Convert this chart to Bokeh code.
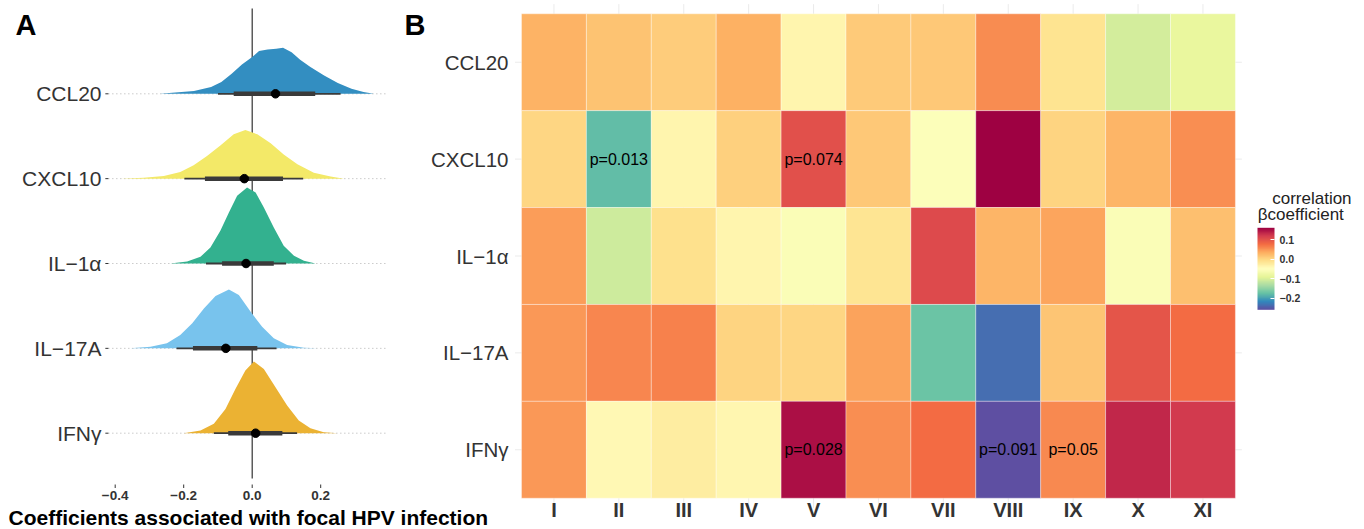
from bokeh.plotting import figure
from bokeh.models import Range1d, LinearColorMapper, ColorBar, FixedTicker, ColumnDataSource
from bokeh.transform import transform
from bokeh.core.properties import value
from bokeh.embed import file_html
from bokeh.resources import INLINE

FONT = "Liberation Sans"
W, H = 1364, 529

# ---------------- Panel A data ----------------
genes = ["CCL20", "CXCL10", "IL−1α", "IL−17A", "IFNγ"]
# Okabe-Ito colours as they appear at 80% opacity on white
gene_colors = ["#338EC1", "#F3E968", "#33B18F", "#78C3ED", "#EBB233"]

# density profiles (height in row-spacing units)
dens_x_ccl20 = [-0.27, -0.17, -0.12, -0.09, -0.06, -0.03, 0.0, 0.02, 0.045, 0.07, 0.09, 0.115, 0.14, 0.17, 0.21, 0.25, 0.29, 0.325, 0.355]
dens_h_ccl20 = [0.0, 0.032, 0.079, 0.138, 0.236, 0.345, 0.433, 0.503, 0.522, 0.530, 0.542, 0.491, 0.401, 0.315, 0.216, 0.126, 0.059, 0.020, 0.0]
dens_x_cxcl10 = [-0.385, -0.317, -0.258, -0.21, -0.171, -0.132, -0.093, -0.054, -0.02, 0.015, 0.054, 0.092, 0.132, 0.18, 0.229, 0.268]
dens_h_cxcl10 = [0.0, 0.012, 0.032, 0.079, 0.157, 0.268, 0.392, 0.522, 0.574, 0.522, 0.416, 0.286, 0.169, 0.071, 0.024, 0.0]
dens_x_il1a = [-0.239, -0.19, -0.151, -0.122, -0.093, -0.068, -0.044, -0.015, 0.01, 0.034, 0.063, 0.092, 0.122, 0.151, 0.185]
dens_h_il1a = [0.0, 0.024, 0.079, 0.189, 0.385, 0.601, 0.798, 0.896, 0.837, 0.660, 0.424, 0.209, 0.091, 0.032, 0.0]
dens_x_il17a = [-0.356, -0.297, -0.249, -0.21, -0.175, -0.141, -0.107, -0.068, -0.039, -0.005, 0.029, 0.063, 0.102, 0.151, 0.19]
dens_h_il17a = [0.0, 0.020, 0.059, 0.157, 0.295, 0.471, 0.616, 0.695, 0.628, 0.433, 0.256, 0.118, 0.039, 0.008, 0.0]
dens_x_ifng = [-0.2, -0.151, -0.112, -0.078, -0.049, -0.02, 0.005, 0.034, 0.068, 0.102, 0.136, 0.17, 0.209, 0.249]
dens_h_ifng = [0.0, 0.032, 0.110, 0.286, 0.522, 0.739, 0.845, 0.758, 0.542, 0.326, 0.150, 0.059, 0.012, 0.0]

point_est = [0.068, -0.023, -0.018, -0.077, 0.010]
ci66_lo = [-0.054, -0.138, -0.088, -0.173, -0.070]
ci66_hi = [0.184, 0.090, 0.063, 0.015, 0.088]
ci95_lo = [-0.100, -0.198, -0.135, -0.221, -0.112]
ci95_hi = [0.258, 0.149, 0.099, 0.071, 0.131]

x_ticks_a = [-0.4, -0.2, 0.0, 0.2]
x_tick_labels_a = ["−0.4", "−0.2", "0.0", "0.2"]
x_limits_a = [-0.42, 0.39]
title_a = "Coefficients associated with focal HPV infection"

# ---------------- Panel B data ----------------
cols = ["I", "II", "III", "IV", "V", "VI", "VII", "VIII", "IX", "X", "XI"]
vals_ccl20 = [0.030, 0.016, 0.008, 0.032, -0.035, 0.010, 0.012, 0.056, -0.012, -0.105, -0.085]
vals_cxcl10 = [0.000, -0.178, -0.035, 0.005, 0.102, 0.012, -0.055, 0.160, 0.002, 0.028, 0.055]
vals_il1a = [0.045, -0.110, -0.010, -0.035, -0.058, -0.015, 0.107, 0.028, 0.040, -0.058, 0.020]
vals_il17a = [0.048, 0.060, 0.063, 0.002, 0.000, 0.042, -0.172, -0.235, 0.015, 0.097, 0.078]
vals_ifng = [0.048, -0.040, -0.025, -0.038, 0.150, 0.055, 0.078, -0.259, 0.058, 0.133, 0.120]

p_genes = ["CXCL10", "CXCL10", "IFNγ", "IFNγ", "IFNγ"]
p_cols = ["II", "V", "V", "VIII", "IX"]
p_text = ["p=0.013", "p=0.074", "p=0.028", "p=0.091", "p=0.05"]

cbar_ticks = [-0.2, -0.1, 0.0, 0.1]
cbar_tick_labels = ["−0.2", "−0.1", "0.0", "0.1"]
legend_title = ["correlation", "βcoefficient"]

spectral = ["#5E4FA2", "#3288BD", "#66C2A5", "#ABDDA4", "#E6F598", "#FFFFBF",
            "#FEE08B", "#FDAE61", "#F46D43", "#D53E4F", "#9E0142"]

# ---------------- helpers ----------------
def _rgb(h):
    return [int(h[i:i + 2], 16) for i in (1, 3, 5)]

def smooth_palette(stops, n=256):
    out = []
    m = len(stops) - 1
    for k in range(n):
        t = k / (n - 1) * m
        i = min(int(t), m - 1)
        f = t - i
        a, b = _rgb(stops[i]), _rgb(stops[i + 1])
        c = [round(a[j] + (b[j] - a[j]) * f) for j in range(3)]
        out.append("#%02x%02x%02x" % tuple(c))
    return out

# ---------------- layout of the page (pixels) ----------------
# panel A: value 0 at px 251.7, 342.5 px per unit; baseline of last row at px 432.7, 84.85 px per row
A_X0, A_XS = 251.7, 342.5
A_Y0, A_YS = 432.7, 84.85
# panel B: first column centre px 553.45, 64.9 px per column; tiles top at px 13.3, 96.88 px per row
B_X0, B_XS = 553.45, 64.9
B_TOP, B_YS = 13.3, 96.88
nrow = len(genes)

p = figure(width=W, height=H, min_border=0,
           x_range=Range1d(-A_X0 / A_XS, (W - A_X0) / A_XS),
           y_range=Range1d(-(H - A_Y0) / A_YS, A_Y0 / A_YS),
           x_axis_location=None, y_axis_location=None,
           output_backend="svg", toolbar_location=None)
p.outline_line_color = None
p.grid.visible = False
p.extra_x_ranges = {"hx": Range1d(-B_X0 / B_XS, (W - B_X0) / B_XS),
                    "px": Range1d(0, W)}
p.extra_y_ranges = {"hy": Range1d((nrow - 0.5) - (H - B_TOP) / B_YS, (nrow - 0.5) + B_TOP / B_YS),
                    "py": Range1d(H, 0)}

# ================= Panel A =================
ys = [nrow - 1 - i for i in range(nrow)]

# dotted row guides and axis ticks
p.segment(x0=[x_limits_a[0]] * nrow, y0=ys, x1=[x_limits_a[1]] * nrow, y1=ys,
          line_color="#A8A8A8", line_width=0.9, line_dash="1 3")
p.segment(x0=[x_limits_a[0] - 3 / A_XS] * nrow, y0=ys, x1=[x_limits_a[0]] * nrow, y1=ys,
          line_color="#333333", line_width=1)
# zero reference line
p.segment(x0=[0], y0=[-(478 - A_Y0) / A_YS], x1=[0], y1=[(A_Y0 - 8) / A_YS],
          line_color="#333333", line_width=1.2)

profiles = [(dens_x_ccl20, dens_h_ccl20), (dens_x_cxcl10, dens_h_cxcl10),
            (dens_x_il1a, dens_h_il1a), (dens_x_il17a, dens_h_il17a),
            (dens_x_ifng, dens_h_ifng)]
for (dx, dh), yb, col in zip(profiles, ys, gene_colors):
    p.varea(x=dx, y1=[yb] * len(dx), y2=[yb + h for h in dh], fill_color=col)

p.segment(x0=ci95_lo, y0=ys, x1=ci95_hi, y1=ys, line_color="#3A3A3A", line_width=1.8)
p.segment(x0=ci66_lo, y0=ys, x1=ci66_hi, y1=ys, line_color="#3A3A3A", line_width=4.5)
p.scatter(x=point_est, y=ys, size=8.5, fill_color="black", line_color="black")

# y labels of panel A
p.text(x=[101] * nrow, y=ys, text=genes, x_range_name="px",
       text_font=value(FONT), text_font_size="21px", text_color="#333333",
       text_align="right", text_baseline="middle")
# x ticks and labels of panel A
nt = len(x_ticks_a)
p.segment(x0=x_ticks_a, y0=[484] * nt, x1=x_ticks_a, y1=[487.5] * nt, y_range_name="py",
          line_color="#333333", line_width=1)
p.text(x=x_ticks_a, y=[494.5] * nt, text=x_tick_labels_a, y_range_name="py",
       text_font=value(FONT), text_font_size="13.5px", text_font_style="bold",
       text_color="#333333", text_align="center", text_baseline="middle")
p.text(x=[8], y=[516.5], text=[title_a], x_range_name="px", y_range_name="py",
       text_font=value(FONT), text_font_size="21px", text_font_style="bold",
       text_color="black", text_align="left", text_baseline="alphabetic")

# ================= Panel B =================
col_idx = {c: i for i, c in enumerate(cols)}
row_idx = {g: nrow - 1 - i for i, g in enumerate(genes)}

ncol = len(cols)
# grid lines at category positions
p.segment(x0=list(range(ncol)), y0=[-0.6] * ncol, x1=list(range(ncol)), y1=[nrow - 0.4] * ncol,
          x_range_name="hx", y_range_name="hy", line_color="#EBEBEB", line_width=1)
p.segment(x0=[-0.6] * nrow, y0=ys, x1=[ncol - 0.4] * nrow, y1=ys,
          x_range_name="hx", y_range_name="hy", line_color="#EBEBEB", line_width=1)

all_rows = [vals_ccl20, vals_cxcl10, vals_il1a, vals_il17a, vals_ifng]
tx, ty, tv = [], [], []
for g, rv in zip(genes, all_rows):
    for c, v in zip(cols, rv):
        tx.append(col_idx[c])
        ty.append(row_idx[g])
        tv.append(v)
src = ColumnDataSource(dict(x=tx, y=ty, val=tv))
mapper = LinearColorMapper(palette=smooth_palette(spectral), low=min(tv), high=max(tv))
p.rect(x="x", y="y", width=1, height=1, source=src, x_range_name="hx", y_range_name="hy",
       fill_color=transform("val", mapper), line_color="white", line_width=0.6, line_alpha=0.6)

psrc = ColumnDataSource(dict(x=[col_idx[c] for c in p_cols], y=[row_idx[g] for g in p_genes], txt=p_text))
p.text(x="x", y="y", text="txt", source=psrc, x_range_name="hx", y_range_name="hy",
       text_align="center", text_baseline="middle",
       text_font=value(FONT), text_font_size="16px", text_color="black")

# category labels of panel B
p.text(x=[508] * nrow, y=ys, text=genes, x_range_name="px", y_range_name="hy",
       text_font=value(FONT), text_font_size="20.5px", text_color="#333333",
       text_align="right", text_baseline="middle")
p.text(x=list(range(ncol)), y=[509.5] * ncol, text=cols, x_range_name="hx", y_range_name="py",
       text_font=value(FONT), text_font_size="20px", text_font_style="bold",
       text_color="#333333", text_align="center", text_baseline="middle")

# panel tags
p.text(x=[15, 404], y=[24.5, 24.5], text=["A", "B"], x_range_name="px", y_range_name="py",
       text_font=value(FONT), text_font_size="29px", text_font_style="bold",
       text_color="black", text_align="left", text_baseline="middle")

# ================= Legend =================
p.text(x=[1271.7, 1257.3], y=[197.7, 214.3], text=legend_title, x_range_name="px", y_range_name="py",
       text_font=value(FONT), text_font_size="17px", text_color="#222222",
       text_align="left", text_baseline="alphabetic")

cb = ColorBar(color_mapper=mapper, width=17, height=82, location=(1257, H - 309.3),
              padding=0, margin=0, ticker=FixedTicker(ticks=cbar_ticks),
              major_label_overrides={t: l for t, l in zip(cbar_ticks, cbar_tick_labels)},
              major_label_text_font=FONT, major_label_text_font_size="10.5px",
              major_label_text_font_style="bold", major_label_text_color="#333333",
              label_standoff=5, major_tick_line_color="white", major_tick_in=4,
              major_tick_out=0, minor_tick_line_color=None, bar_line_color=None,
              border_line_color=None, background_fill_alpha=0)
p.add_layout(cb)

open("out.html", "w").write(file_html(p, INLINE))
